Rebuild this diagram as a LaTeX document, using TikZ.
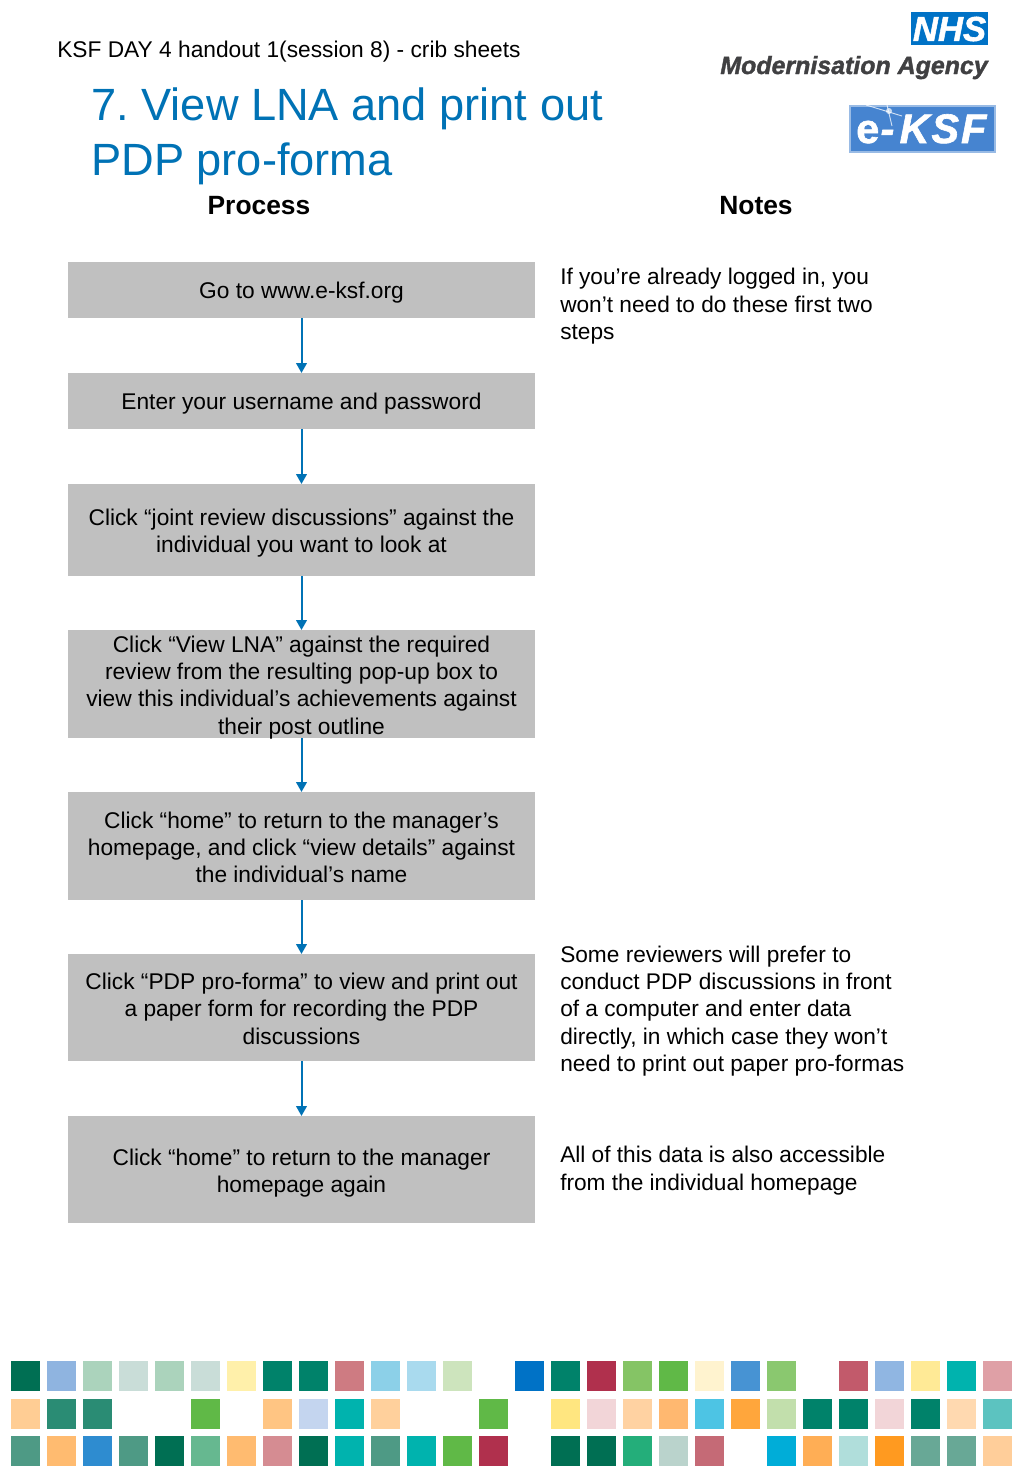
\documentclass[tikz,border=0pt]{standalone}
\usepackage{fontspec}
\setmainfont{Liberation Sans}
\newfontfamily\logofont[BoldItalicFeatures={FakeBold=1.5}, BoldFeatures={FakeBold=1.5}]{Liberation Sans}
\usepackage{xcolor}
\usetikzlibrary{arrows.meta, positioning}
\definecolor{titleblue}{RGB}{0, 114, 181}
\definecolor{boxgrey}{RGB}{192, 192, 192}
\definecolor{nhsblue}{RGB}{0, 114, 198}
\definecolor{ksfblue}{RGB}{70, 132, 208}
\definecolor{agencygrey}{RGB}{64, 64, 66}
\tikzset{
  stepbox/.style={fill=boxgrey, minimum width=350.25pt, inner sep=0pt, outer sep=0pt},
  steptext/.style={inner sep=0pt, align=center, font=\fontsize{17.05}{20.5}\selectfont},
  notetext/.style={anchor=north west, inner sep=0pt, align=left, font=\fontsize{17}{20.5}\selectfont},
  headtext/.style={inner sep=0pt, font=\fontsize{19.8}{23}\selectfont\bfseries},
  flowarrow/.style={draw=titleblue, line width=1.5pt, -{Triangle[length=7.5pt, width=8pt]}}
}
\begin{document}
\begin{tikzpicture}[x=0.75pt, y=-0.75pt]
  \useasboundingbox (0,0) rectangle (1024,1479);

  % header
  \node[anchor=base west, inner sep=0pt, font=\fontsize{17.05}{20}\selectfont] (handout) at (57,57) {KSF DAY 4 handout 1(session 8) - crib sheets};
  \node[anchor=base west, inner sep=0pt, align=left, text=titleblue, font=\fontsize{33.9}{41.25}\selectfont\frenchspacing] (title) at (91,175.5)
    {7. View LNA and print out\\PDP pro-forma};
  \node[headtext] (process) at (259,206) {Process};
  \node[headtext] (notes) at (756,206) {Notes};

  % process boxes
  \foreach \name/\ytop/\ybot/\lift/\desc in {
      go/262/318/-2.25/{Go to www.e-ksf.org},
      login/373/429/-2.25/{Enter your username and password},
      joint/484/576/-2.25/{Click “joint review discussions” against the\\individual you want to look at},
      lna/630/738/-2.5/{Click “View LNA” against the required\\review from the resulting pop-up box to\\view this individual’s achievements against\\their post outline},
      home/792/900/-1/{Click “home” to return to the manager’s\\homepage, and click “view details” against\\the individual’s name},
      pdp/954/1061/-1/{Click “PDP pro-forma” to view and print out\\a paper form for recording the PDP\\discussions},
      again/1116/1223/-2.5/{Click “home” to return to the manager\\homepage again}}{
    \pgfmathsetmacro{\boxh}{(\ybot-\ytop)*0.75}
    \node[stepbox, minimum height=\boxh pt, label={[steptext, yshift=\lift pt]center:\desc}] (\name) at (301.5,{(\ytop+\ybot)/2}) {};
  }
  \foreach \from/\to in {go/login, login/joint, joint/lna, lna/home, home/pdp, pdp/again}{
    \draw[flowarrow] (\from) -- (\to);
  }

  % notes
  \node[notetext] (noteone) at (560,268) {If you’re already logged in, you\\won’t need to do these first two\\steps};
  \node[notetext] (notetwo) at (560,945.3) {Some reviewers will prefer to\\conduct PDP discussions in front\\of a computer and enter data\\directly, in which case they won’t\\need to print out paper pro-formas};
  \node[notetext] (notethree) at (560,1146) {All of this data is also accessible\\from the individual homepage};

  % colour squares along the foot
  \foreach \row/\cells in {
      1361/{0/006F53,1/8FB4E0,2/ABD3BC,3/C9DDD8,4/ABD3BC,5/C9DDD8,6/FFF0AA,7/00826A,8/00826A,9/CE7B82,10/8CD0E8,11/A9DAEE,12/CDE4BD,14/0072C6,15/00826A,16/B0304D,17/85C465,18/60B947,19/FFF3CF,20/4793D3,21/8AC86F,23/C25A6B,24/90B6E2,25/FFEA96,26/00B3AE,27/DFA0A6},
      1398.5/{0/FFCD94,1/2A8C74,2/2A8C74,5/60B947,7/FFC583,8/C4D5EF,9/00B3AE,10/FFD09C,13/60B947,15/FFE680,16/F2D5D8,17/FFD2A2,18/FFB870,19/4DC4E4,20/FFA63C,21/C2DFAC,22/00826A,23/00826A,24/F2D5D8,25/00826A,26/FFD9B0,27/5CC3C0},
      1436/{0/4E9A85,1/FFBB70,2/2E8CD0,3/4E9A85,4/006F53,5/66B890,6/FFBB70,7/D58C92,8/006F53,9/00B3AE,10/4E9A85,11/00B3AE,12/60B947,13/B0304D,15/006F53,16/006F53,17/24AE7A,18/BAD3CC,19/C56A76,21/00ADD8,22/FFAE55,23/B0DEDB,24/FF9A20,25/68A896,26/68A896,27/FFCE9A}}{
    \foreach \i/\shade in \cells {
      \definecolor{cellcolour}{HTML}{\shade}
      \fill[cellcolour] ({11+\i*36},\row) rectangle ++(29,30);
    }
  }

  % logos last, the fake bold upsets later strokes
  \fill[nhsblue] (911,12) rectangle (988,45);
  \fill[ksfblue, draw=ksfblue!55, line width=1.5pt] (850,105.5) rectangle (995,152);
  \fill[white, opacity=0.7] (889,111) circle (3);
  \draw[white, line width=0.7pt, opacity=0.75] (866,105) -- (902,116) (887,105) -- (892,126);
  \node[anchor=base west, inner sep=0pt, text=white, font=\logofont\fontsize{31}{31}\selectfont\bfseries\itshape] (eksf) at (856,143)
    {{\upshape e}\kern1pt-\kern4pt K\kern1.5pt S\kern1.5pt F};
  \node[inner sep=0pt, text=white, font=\logofont\fontsize{26}{26}\selectfont\bfseries\itshape] (nhs) at (949.5,29) {NHS};
  \node[anchor=base east, inner sep=0pt, text=agencygrey, font=\logofont\fontsize{18.7}{20}\selectfont\bfseries\itshape] (agency) at (988,74) {Modernisation Agency};
\end{tikzpicture}
\end{document}
